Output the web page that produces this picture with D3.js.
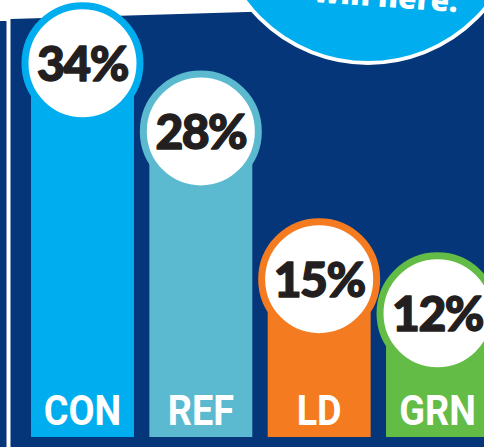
<!DOCTYPE html>
<html><head><meta charset="utf-8">
<script src="https://cdn.jsdelivr.net/npm/d3@7"></script>
<style>html,body{margin:0;padding:0;background:#fff;}svg{display:block;}</style>
</head><body>
<script>
const categories = ["CON", "REF", "LD", "GRN"];
const values = [34, 28, 15, 12];
const valueLabels = ["34%", "28%", "15%", "12%"];
const barColors = ["#00aeef", "#5bb9d0", "#f47b20", "#63bc46"];
const calloutLines = ["...could", "win here."];

const W = 484, H = 447;
const navy = "#05367a";
const svg = d3.select("body").append("svg").attr("width", W).attr("height", H);

svg.append("rect").attr("width", W).attr("height", H).attr("fill", "#fff");
// left strip
svg.append("polygon").attr("points", `0,21 6.5,21 6.5,${H} 0,${H}`).attr("fill", navy);
// main panel with slanted top
svg.append("polygon").attr("points", `10.5,19 ${W},5 ${W},${H} 10.5,${H}`).attr("fill", navy);

const baseY = 437;
const x = d3.scaleBand().domain(categories).range([31, 489]).paddingInner(0.13).paddingOuter(0);
const y = d3.scaleLinear().domain([0, 40]).range([449.7, -5]);

const g = svg.append("g");
const bars = g.selectAll("g.bar").data(categories).join("g").attr("class", "bar");

bars.append("rect")
  .attr("x", d => x(d))
  .attr("y", (d, i) => y(values[i]))
  .attr("width", x.bandwidth())
  .attr("height", (d, i) => baseY - y(values[i]))
  .attr("fill", (d, i) => barColors[i]);

bars.append("text")
  .attr("transform", d => `translate(${x(d) + x.bandwidth() / 2},425) scale(0.9,1)`)
  .attr("text-anchor", "middle")
  .attr("fill", "#fff")
  .style("font-family", "Roboto")
  .style("font-weight", 700)
  .style("font-size", "42px")
  .text(d => d);

bars.append("circle")
  .attr("cx", d => x(d) + x.bandwidth() / 2)
  .attr("cy", (d, i) => y(values[i]))
  .attr("r", 57.5)
  .attr("fill", "#fff")
  .attr("stroke", (d, i) => barColors[i])
  .attr("stroke-width", 7);

bars.append("text")
  .attr("x", d => x(d) + x.bandwidth() / 2)
  .attr("y", (d, i) => y(values[i]) + 17.5)
  .attr("text-anchor", "middle")
  .attr("fill", "#231f20")
  .attr("stroke", "#231f20")
  .attr("stroke-width", 1.4)
  .attr("stroke-linejoin", "round")
  .style("font-family", "Lato")
  .style("font-weight", 900)
  .style("font-size", "48px")
  .style("letter-spacing", "-1.5px")
  .text((d, i) => valueLabels[i]);

// callout bubble
svg.append("circle").attr("cx", 368).attr("cy", -90).attr("r", 153)
  .attr("fill", "#00aeef").attr("stroke", "#fff").attr("stroke-width", 4);
const ct = svg.append("text")
  .attr("transform", "translate(385,7) rotate(4)")
  .attr("text-anchor", "middle")
  .attr("fill", "#fff")
  .style("font-family", "'Open Sans'")
  .style("font-weight", 800)
  .style("font-size", "30px");
calloutLines.forEach((l, i) => {
  ct.append("tspan").attr("x", 0).attr("dy", i === 0 ? -32 : 32).text(l);
});
</script>
</body></html>
